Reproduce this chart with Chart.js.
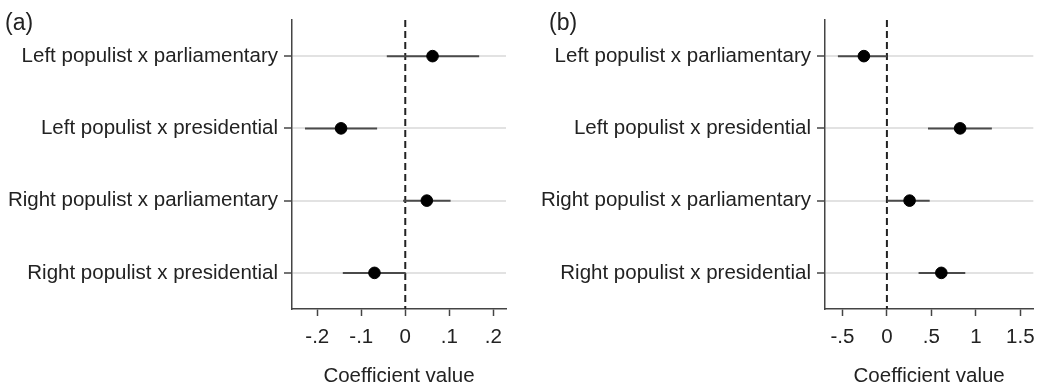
<!DOCTYPE html>
<html lang="en">
<head>
  <meta charset="UTF-8" />
  <title>Coefficient plots</title>
  <script src="https://cdn.jsdelivr.net/npm/chart.js"></script>
  <style>
    body { margin: 0; background: #fff; font-family: "Liberation Sans", Arial, sans-serif; }
    .panel { position: absolute; top: 0; height: 389px; }
    .tag { position: absolute; top: 9px; font-size: 23px; color: #222; }
  </style>
</head>
<body>
  <div class="panel" style="left:0;width:515px;"><canvas id="chartA"></canvas></div>
  <div class="panel" style="left:515px;width:529px;"><canvas id="chartB"></canvas></div>
  <div class="tag" style="left:5px;">(a)</div>
  <div class="tag" style="left:549px;">(b)</div>

  <script>
    const categories = [
      'Left populist x parliamentary',
      'Left populist x presidential',
      'Right populist x parliamentary',
      'Right populist x presidential'
    ];

    // panel (a)
    const estA = [0.062, -0.146, 0.049, -0.070];
    const lowA = [-0.042, -0.228, -0.005, -0.142];
    const highA = [0.168, -0.064, 0.103, 0.001];
    const ticksA = [-0.2, -0.1, 0, 0.1, 0.2];
    const tickLabelsA = ['-.2', '-.1', '0', '.1', '.2'];

    // panel (b)
    const estB = [-0.259, 0.823, 0.255, 0.612];
    const lowB = [-0.551, 0.462, 0.007, 0.356];
    const highB = [0.0, 1.18, 0.481, 0.881];
    const ticksB = [-0.5, 0, 0.5, 1, 1.5];
    const tickLabelsB = ['-.5', '0', '.5', '1', '1.5'];

    const font = { family: '"Liberation Sans", Arial, sans-serif', size: 20.5 };

    const zeroLine = {
      id: 'zeroLine',
      beforeDatasetsDraw(chart) {
        const { ctx, chartArea, scales } = chart;
        const x = scales.x.getPixelForValue(0);
        ctx.save();
        ctx.strokeStyle = '#222';
        ctx.lineWidth = 2;
        ctx.setLineDash([7, 4]);
        ctx.beginPath();
        ctx.moveTo(x, chartArea.top);
        ctx.lineTo(x, chartArea.bottom);
        ctx.stroke();
        ctx.restore();
      }
    };

    const makePanel = (id, est, low, high, ticks, tickLabels, xmin, xmax, yWidth, padRight) => {
      const ciSets = categories.map((c, i) => ({
        type: 'scatter',
        data: [{ x: low[i], y: i }, { x: high[i], y: i }],
        showLine: true,
        borderColor: '#4a4a4a',
        borderWidth: 2,
        pointRadius: 0,
        order: 2
      }));
      new Chart(document.getElementById(id), {
        type: 'scatter',
        data: {
          datasets: [
            {
              data: est.map((v, i) => ({ x: v, y: i })),
              backgroundColor: '#000',
              borderColor: '#000',
              pointRadius: 5.8,
              order: 1
            },
            ...ciSets
          ]
        },
        options: {
          responsive: true,
          maintainAspectRatio: false,
          animation: false,
          layout: { padding: { top: 20, right: padRight, left: 0, bottom: 0 } },
          plugins: { legend: { display: false }, tooltip: { enabled: false } },
          scales: {
            x: {
              type: 'linear',
              min: xmin,
              max: xmax,
              afterBuildTicks: s => { s.ticks = ticks.map(v => ({ value: v })); },
              afterFit: s => { s.height = 80; },
              ticks: {
                font,
                color: '#222',
                padding: 9,
                maxRotation: 0,
                callback: v => tickLabels[ticks.indexOf(v)]
              },
              grid: { drawOnChartArea: false, tickLength: 7, tickColor: '#444', tickWidth: 1.5 },
              border: { color: '#444', width: 1.5 },
              title: { display: true, text: 'Coefficient value', font, color: '#222', padding: { top: 0, bottom: 0 } }
            },
            y: {
              type: 'linear',
              min: -0.5,
              max: 3.5,
              reverse: true,
              afterBuildTicks: s => { s.ticks = categories.map((c, i) => ({ value: i })); },
              afterFit: s => { s.width = yWidth; },
              ticks: {
                font,
                color: '#222',
                padding: 6,
                callback: v => categories[v]
              },
              grid: { color: '#e2e2e2', lineWidth: 2, tickLength: 8, tickColor: '#444', tickWidth: 1.5 },
              border: { color: '#444', width: 1.5 }
            }
          }
        },
        plugins: [zeroLine]
      });
    };

    makePanel('chartA', estA, lowA, highA, ticksA, tickLabelsA, -0.2575, 0.229, 292, 9);
    makePanel('chartB', estB, lowB, highB, ticksB, tickLabelsB, -0.696, 1.646, 310, 5);
  </script>
</body>
</html>
